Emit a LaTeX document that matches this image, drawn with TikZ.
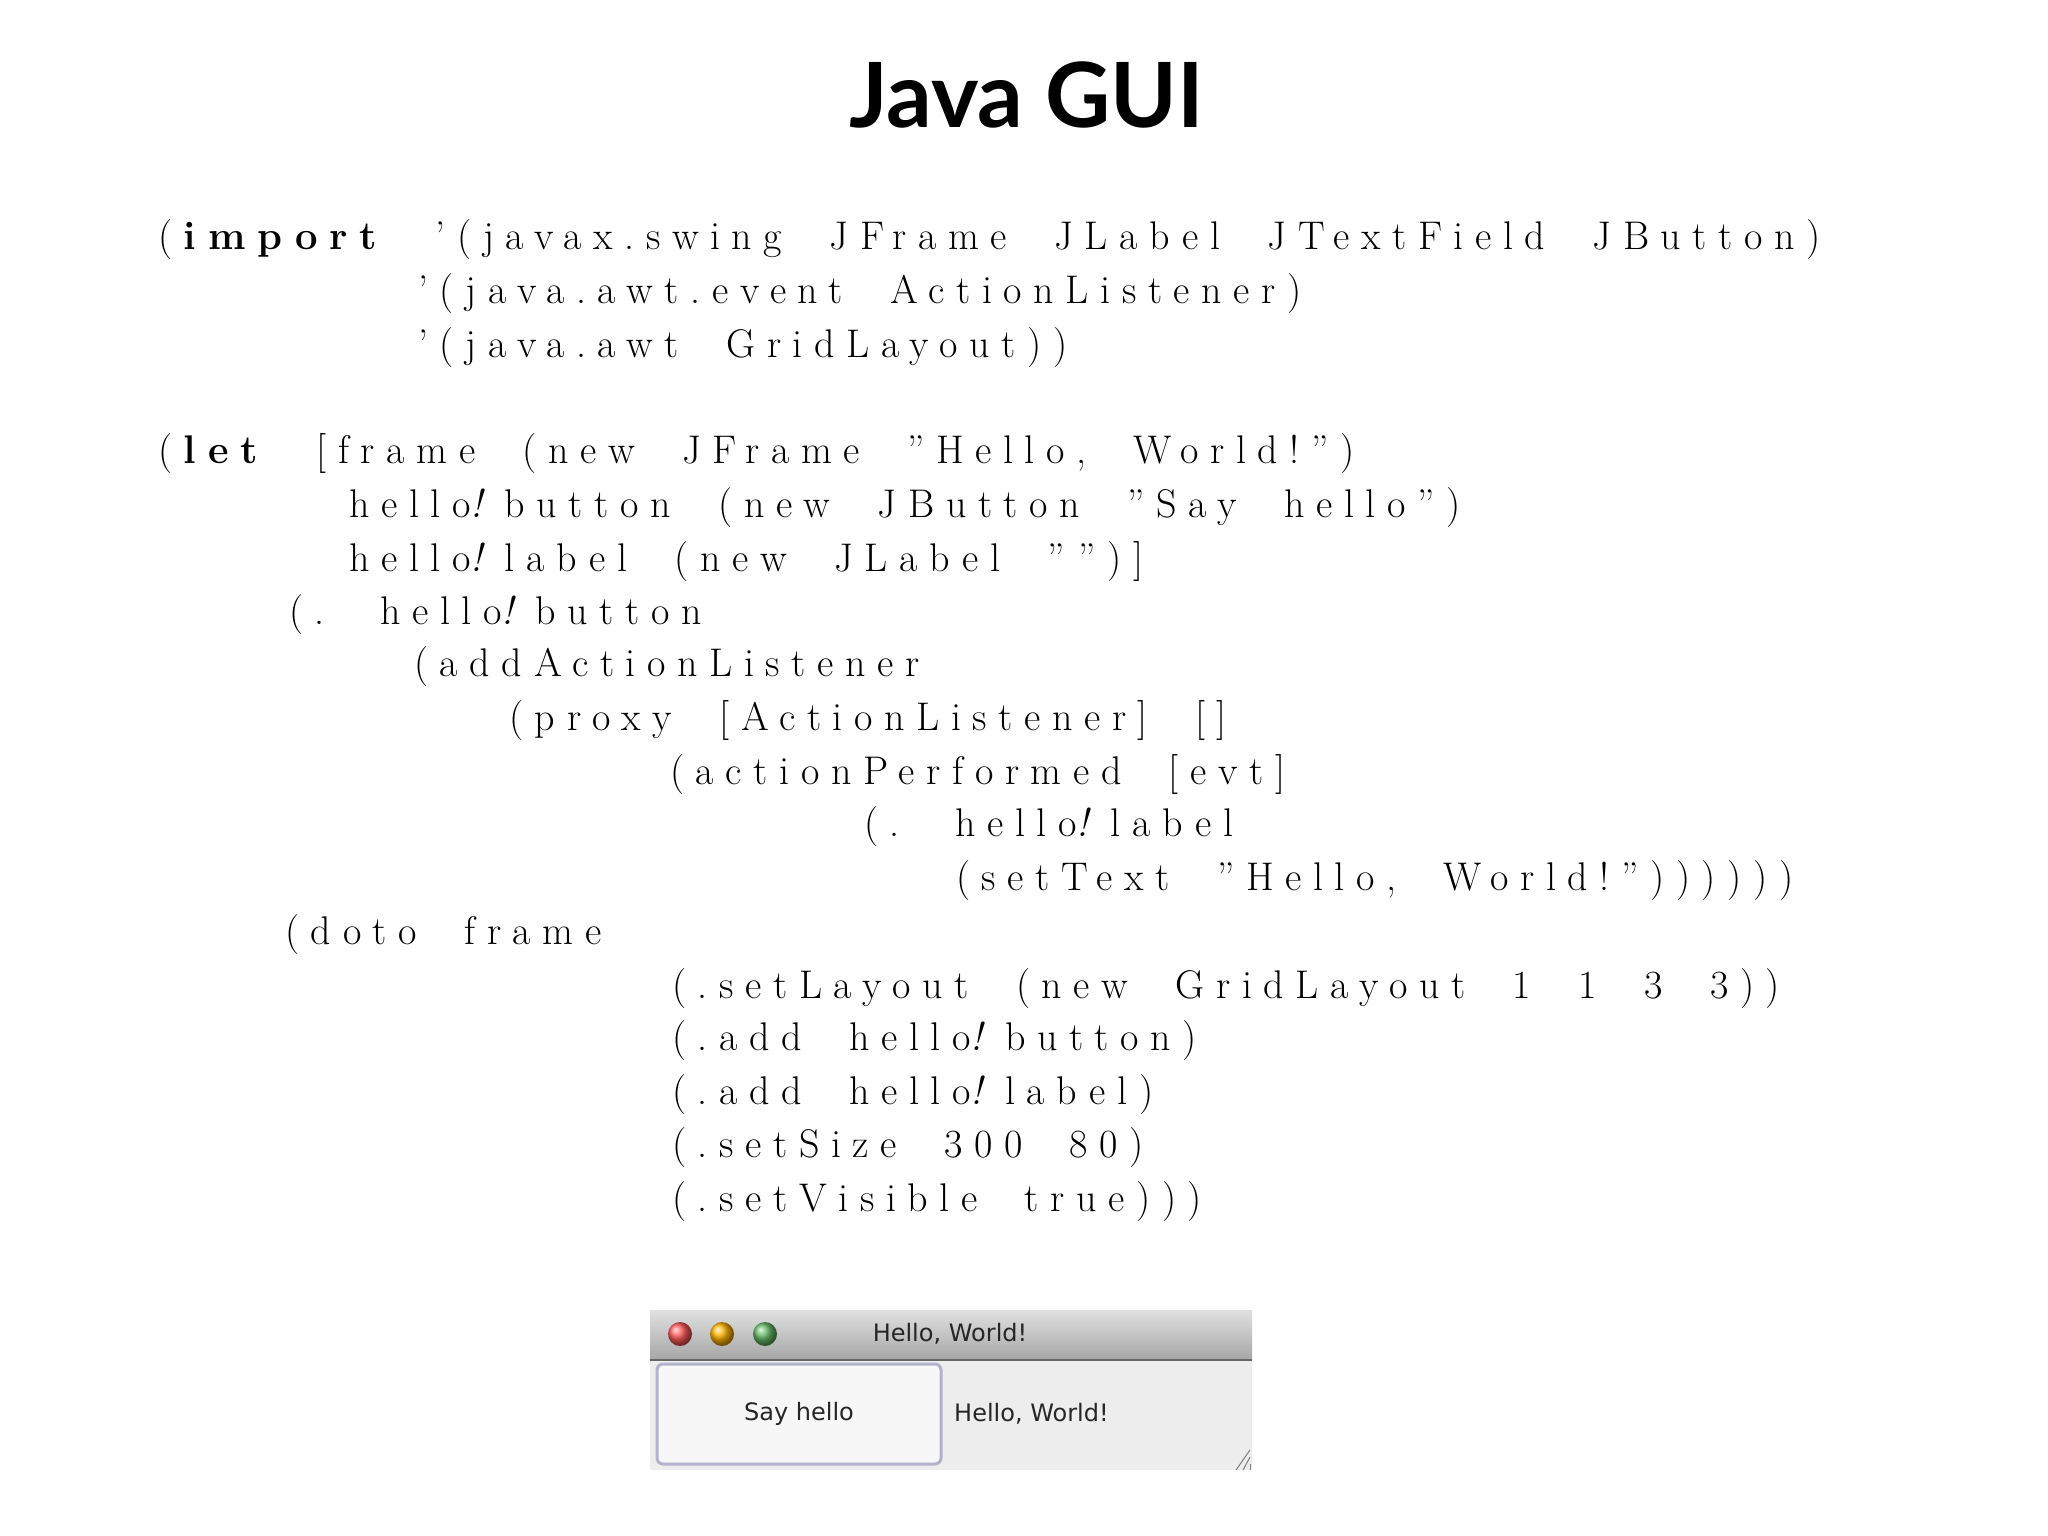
\documentclass[tikz,border=0pt]{standalone}
\usepackage{fontspec}
\setmainfont{Latin Modern Roman}[LetterSpace=29,WordSpace=2]
\newfontfamily\titlefont{Lato}
\newfontfamily\guifont{DejaVu Sans}
\newcommand{\bang}{\textit{!}\kern8pt}
\begin{document}
\begin{tikzpicture}[x=1pt,y=-1pt,
  code/.style={anchor=base west,inner sep=0pt,font=\fontsize{40}{48}\selectfont},
  gui/.style={inner sep=0pt,font=\guifont\fontsize{24}{28}\selectfont,text=black!85}]
\useasboundingbox[fill=white] (0,0) rectangle (2048,1536);
\node[inner sep=0pt,font=\titlefont\bfseries\fontsize{90}{100}\selectfont] (title) at (1027,95) {Java GUI};
\node[code] (l1) at (158,249) {(\textbf{import} ’(javax.swing JFrame JLabel JTextField JButton)};
\node[code] (l2) at (418,303) {’(java.awt.event ActionListener)};
\node[code] (l3) at (418,357) {’(java.awt GridLayout))};
\node[code] (l4) at (158,463) {(\textbf{let} [frame (new JFrame ”Hello, World!”)};
\node[code] (l5) at (349,517) {hello\bang button (new JButton ”Say hello”)};
\node[code] (l6) at (349,571) {hello\bang label (new JLabel ””)]};
\node[code] (l7) at (289,624) {(. hello\bang button};
\node[code] (l8) at (414,676) {(addActionListener};
\node[code] (l9) at (509,730) {(proxy [ActionListener] []};
\node[code] (l10) at (670,784) {(actionPerformed [evt]};
\node[code] (l11) at (864,836) {(. hello\bang label};
\node[code] (l12) at (956,890) {(setText ”Hello, World!”))))))};
\node[code] (l13) at (285,944) {(doto frame};
\node[code] (l14) at (672,998) {(.setLayout (new GridLayout 1 1 3 3))};
\node[code] (l15) at (672,1050) {(.add hello\bang button)};
\node[code] (l16) at (672,1104) {(.add hello\bang label)};
\node[code] (l17) at (672,1157) {(.setSize 300 80)};
\node[code] (l18) at (672,1211) {(.setVisible true)))};
% GUI window
\fill[black!7] (650,1360) rectangle (1252,1470);
\shade[top color=black!12,bottom color=black!35] (650,1310) rectangle (1252,1360);
\draw[black!60,line width=1.5pt] (650,1360) -- (1252,1360);
\foreach \cx/\col in {680/red!65,722/orange!60!yellow,765/green!55!black!60}
  \shade[ball color=\col] (\cx,1334) circle (12);
\node[gui] (wt) at (950,1334) {Hello, World!};
\node[draw=blue!35!black!30,line width=3pt,rounded corners=6pt,fill=black!3,minimum width=284pt,minimum height=100pt,inner sep=0pt] (btn) at (799,1414) {};
\node[gui] (bt) at (btn.center) {Say hello};
\node[gui,anchor=west] (lbl) at (954,1414) {Hello, World!};
\foreach \d in {0,7,14}
  \draw[black!50,line width=1pt] (1250-\d,1470) -- (1250,1470-\d-6);
\end{tikzpicture}
\end{document}
